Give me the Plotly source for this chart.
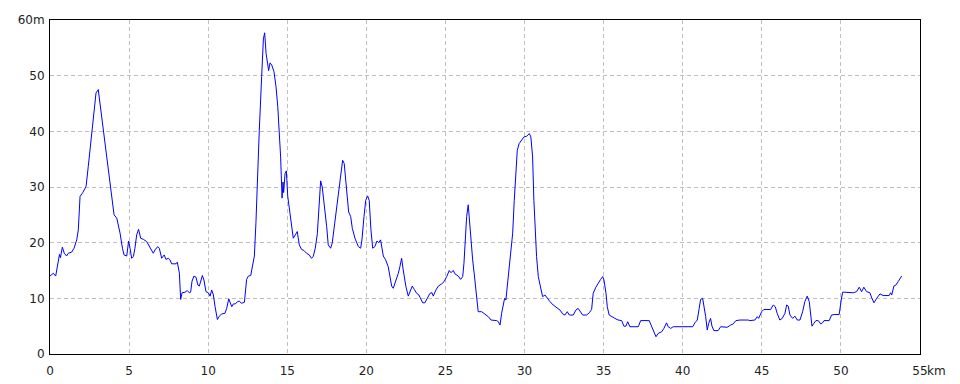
import plotly.graph_objects as go

distance_km = [
    0.00, 0.21, 0.36, 0.55, 0.60, 0.66, 0.78, 0.90, 1.05, 1.16, 1.37, 1.52, 1.69, 1.79, 1.90,
    2.07, 2.28, 2.42, 2.63, 2.80, 2.91, 3.05, 3.27, 3.48, 3.69, 3.90, 4.05, 4.22, 4.43, 4.58,
    4.68, 4.85, 4.97, 5.06, 5.16, 5.27, 5.37, 5.48, 5.60, 5.73, 5.90, 6.11, 6.22, 6.43, 6.53,
    6.64, 6.81, 6.91, 7.06, 7.22, 7.33, 7.48, 7.59, 7.69, 7.97, 8.05, 8.18, 8.26, 8.35, 8.54,
    8.68, 8.81, 8.89, 8.98, 9.10, 9.23, 9.35, 9.44, 9.52, 9.63, 9.73, 9.86, 10.01, 10.12, 10.22,
    10.33, 10.43, 10.58, 10.71, 10.85, 11.06, 11.17, 11.30, 11.38, 11.49, 11.59, 11.72, 11.85, 11.97, 12.10,
    12.29, 12.43, 12.54, 12.69, 12.81, 12.92, 13.02, 13.11, 13.23, 13.38, 13.49, 13.57, 13.66, 13.76, 13.82,
    13.91, 14.02, 14.16, 14.29, 14.40, 14.50, 14.58, 14.67, 14.73, 14.77, 14.86, 14.94, 15.03, 15.17, 15.30,
    15.38, 15.51, 15.63, 15.76, 15.90, 16.05, 16.22, 16.39, 16.53, 16.64, 16.77, 16.90, 17.00, 17.11,
    17.21, 17.38, 17.49, 17.59, 17.74, 17.84, 17.97, 18.12, 18.29, 18.41, 18.50, 18.60, 18.75, 18.88, 19.01,
    19.11, 19.28, 19.49, 19.64, 19.72, 19.85, 19.96, 20.08, 20.18, 20.29, 20.40, 20.54, 20.67, 20.78, 20.90,
    21.07, 21.22, 21.38, 21.49, 21.60, 21.70, 21.85, 22.02, 22.12, 22.23, 22.33, 22.50, 22.65, 22.76, 22.90,
    23.03, 23.18, 23.32, 23.43, 23.56, 23.70, 23.87, 24.02, 24.15, 24.23, 24.40, 24.55, 24.76, 24.91, 25.08,
    25.24, 25.35, 25.49, 25.60, 25.81, 25.96, 26.09, 26.17, 26.28, 26.34, 26.44, 26.50, 26.61, 26.72, 26.86,
    26.97, 27.07, 27.29, 27.50, 27.71, 27.88, 28.24, 28.34, 28.45, 28.55, 28.65, 28.74, 28.82, 28.91, 29.01,
    29.12, 29.25, 29.35, 29.46, 29.54, 29.66, 29.82, 29.96, 30.13, 30.30, 30.40, 30.51, 30.59, 30.68, 30.76,
    30.87, 31.02, 31.14, 31.29, 31.44, 31.61, 31.81, 32.03, 32.24, 32.41, 32.55, 32.70, 32.83, 33.08, 33.25,
    33.39, 33.55, 33.67, 33.93, 34.09, 34.24, 34.34, 34.51, 34.66, 34.81, 34.94, 35.02, 35.15, 35.23, 35.35,
    35.51, 35.71, 35.92, 36.14, 36.28, 36.41, 36.52, 36.66, 37.19, 37.34, 37.88, 38.03, 38.14, 38.31, 38.45,
    38.67, 38.81, 38.98, 39.08, 39.24, 39.40, 40.63, 40.77, 40.92, 41.04, 41.13, 41.26, 41.34, 41.45, 41.55,
    41.64, 41.76, 41.85, 41.97, 42.24, 42.40, 42.67, 42.81, 43.03, 43.19, 43.36, 43.62, 44.14, 44.25, 44.56,
    44.71, 44.80, 44.99, 45.13, 45.56, 45.72, 45.85, 45.97, 46.14, 46.29, 46.46, 46.57, 46.67, 46.78, 46.95,
    47.09, 47.24, 47.41, 47.58, 47.72, 47.87, 48.00, 48.09, 48.17, 48.29, 48.42, 48.57, 48.72, 48.84, 48.93,
    49.26, 49.41, 49.62, 49.89, 50.02, 50.11, 50.25, 50.78, 50.99, 51.16, 51.31, 51.45, 51.62, 51.83, 51.96,
    52.09, 52.26, 52.47, 52.67, 53.05, 53.14, 53.21, 53.35, 53.48, 53.62, 53.73, 53.84,
]

elevation_m = [
    14.0, 14.5, 14.0, 17.2, 17.9, 17.3, 19.2, 18.1, 17.6, 18.1, 18.3, 19.0, 20.5, 22.3, 28.3,
    29.0, 30.1, 33.7, 39.6, 43.8, 46.9, 47.5, 42.6, 37.8, 32.4, 27.6, 25.0, 24.4, 21.7, 19.0,
    17.8, 17.6, 20.3, 19.0, 17.2, 17.5, 19.0, 21.4, 22.4, 20.8, 20.6, 20.2, 19.6, 18.7, 18.1,
    18.7, 19.3, 19.0, 17.2, 17.8, 17.0, 17.2, 16.9, 16.2, 16.2, 16.5, 14.5, 9.8, 11.0, 11.1,
    11.4, 11.0, 11.1, 13.1, 14.0, 13.8, 12.4, 12.2, 13.0, 14.1, 13.3, 11.2, 11.0, 10.4, 11.5,
    10.6, 8.6, 6.2, 6.8, 7.2, 7.3, 8.2, 9.9, 9.4, 8.5, 9.0, 9.0, 9.4, 9.5, 9.1,
    9.3, 13.4, 14.0, 14.1, 15.8, 17.6, 23.6, 32.0, 40.1, 49.8, 56.6, 57.7, 54.0, 52.1, 50.9,
    52.3, 51.9, 50.7, 48.0, 44.4, 40.2, 35.4, 28.0, 30.9, 29.0, 32.4, 32.9, 28.3, 25.3, 22.9,
    20.8, 21.4, 22.0, 19.6, 18.8, 18.6, 18.1, 17.8, 17.2, 17.5, 19.0, 21.6, 25.8, 31.1,
    30.0, 25.9, 22.9, 19.6, 19.0, 19.9, 22.9, 25.9, 30.0, 33.0, 34.8, 34.2, 30.0, 25.5, 24.7,
    22.6, 20.8, 19.3, 19.0, 20.5, 24.7, 27.6, 28.4, 27.6, 22.3, 19.0, 19.3, 20.3, 20.0, 20.5,
    17.6, 16.9, 15.7, 14.2, 12.2, 11.8, 13.0, 14.5, 15.7, 17.2, 15.1, 12.1, 10.4, 11.2, 12.2,
    11.6, 10.9, 10.6, 10.0, 9.2, 9.2, 10.0, 10.9, 11.0, 10.4, 11.5, 12.2, 12.6, 13.0, 13.9,
    15.0, 14.6, 15.0, 14.4, 14.0, 13.4, 13.9, 16.3, 21.7, 24.7, 26.8, 24.7, 19.3, 16.9, 13.3,
    10.3, 7.6, 7.6, 7.2, 6.7, 6.1, 6.0, 5.8, 5.2, 7.3, 9.1, 10.0, 9.7, 12.1, 15.7,
    18.1, 21.7, 27.6, 32.4, 36.6, 37.8, 38.5, 39.0, 39.1, 39.6, 39.0, 35.4, 27.6, 20.5, 17.5,
    13.9, 12.1, 10.3, 10.6, 10.0, 9.4, 8.8, 8.4, 7.9, 7.2, 7.0, 7.6, 7.0, 7.0, 7.9,
    8.2, 7.4, 7.0, 7.0, 7.4, 8.0, 10.9, 12.0, 12.8, 13.4, 13.9, 13.3, 10.9, 8.5, 7.0,
    6.7, 6.4, 6.1, 6.0, 5.0, 5.0, 5.8, 4.9, 4.9, 6.0, 6.0, 4.9, 4.0, 3.1, 3.7,
    4.0, 4.6, 5.6, 4.9, 4.6, 4.9, 4.9, 5.6, 6.1, 8.2, 9.8, 10.0, 8.8, 6.7, 4.3,
    5.5, 6.4, 5.0, 4.2, 4.2, 4.9, 4.9, 4.8, 5.2, 5.4, 6.0, 6.1, 6.1, 6.0, 6.1,
    6.7, 6.4, 7.6, 8.0, 8.0, 8.8, 8.5, 7.3, 6.1, 6.4, 7.3, 8.8, 8.6, 7.0, 6.4,
    6.8, 6.1, 6.1, 7.6, 9.4, 10.4, 9.4, 7.3, 5.0, 5.5, 6.0, 6.0, 5.4, 5.6, 6.0,
    6.0, 7.0, 7.1, 7.1, 9.7, 11.1, 11.1, 11.0, 11.2, 12.0, 11.2, 12.0, 11.2, 11.0, 10.0,
    9.2, 10.0, 10.8, 10.5, 10.5, 11.0, 10.6, 12.2, 12.4, 13.0, 13.4, 14.0,
]

x_tick_vals = [0, 5, 10, 15, 20, 25, 30, 35, 40, 45, 50, 55]
x_tick_text = ["0", "5", "10", "15", "20", "25", "30", "35", "40", "45", "50", "55"]
y_tick_vals = [0, 10, 20, 30, 40, 50, 60]
y_tick_text = ["0", "10", "20", "30", "40", "50", "60m"]

fig = go.Figure()
fig.add_trace(go.Scatter(
    x=distance_km, y=elevation_m, mode="lines",
    line=dict(color="#0000ff", width=1),
    hoverinfo="skip", showlegend=False,
))

font = dict(family="DejaVu Sans", size=12, color="#222222")

fig.update_layout(
    width=960, height=384,
    margin=dict(l=50, r=40, t=20, b=30),
    paper_bgcolor="white", plot_bgcolor="white",
    font=font,
    showlegend=False,
    xaxis=dict(
        range=[0, 55], tickvals=x_tick_vals, ticktext=x_tick_text,
        showgrid=True, gridcolor="#c0c0c0", griddash="4px,3px", gridwidth=1,
        showline=True, linecolor="black", linewidth=1, mirror=True,
        ticks="outside", ticklen=6, tickcolor="rgba(0,0,0,0)",
        zeroline=False, fixedrange=True, automargin=False,
    ),
    yaxis=dict(
        range=[0, 60], tickvals=y_tick_vals, ticktext=y_tick_text,
        showgrid=True, gridcolor="#c0c0c0", griddash="4px,3px", gridwidth=1,
        showline=True, linecolor="black", linewidth=1, mirror=True,
        ticks="outside", ticklen=2, tickcolor="rgba(0,0,0,0)",
        zeroline=False, fixedrange=True, automargin=False,
    ),
    annotations=[dict(
        x=55, y=0, xref="x", yref="y", text="km", showarrow=False,
        xanchor="left", yanchor="top", xshift=5, yshift=-8, font=font,
    )],
)

fig.write_html("out.html", config={"displayModeBar": False})
